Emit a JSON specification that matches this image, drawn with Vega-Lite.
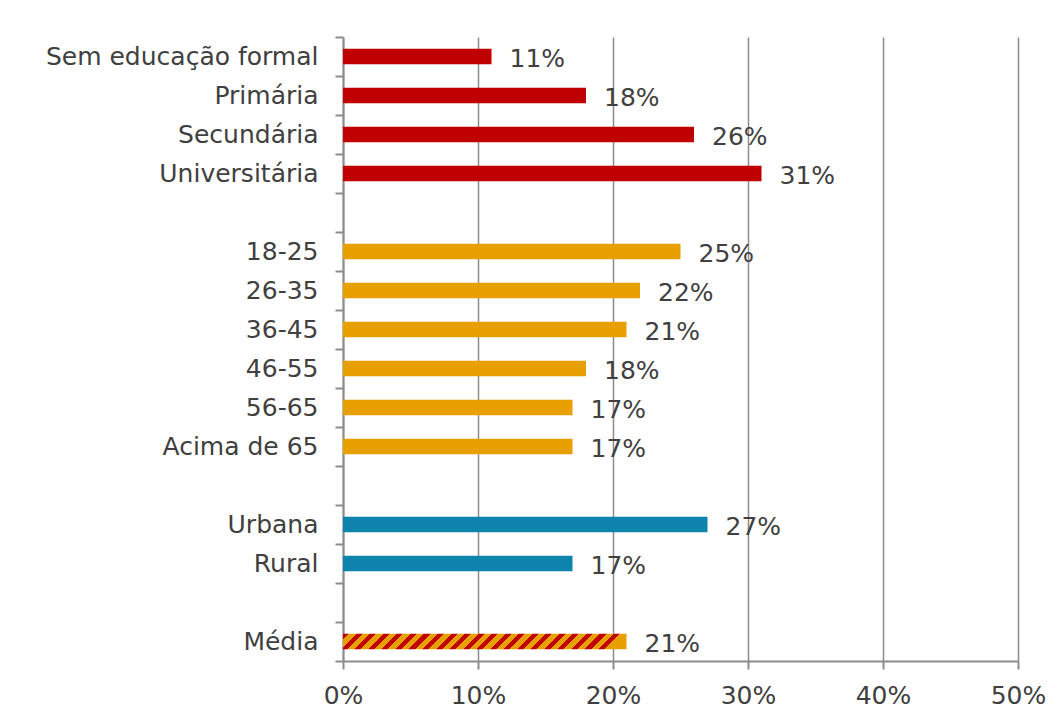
{
  "$schema": "https://vega.github.io/schema/vega-lite/v6.json",
  "width": 675,
  "height": 624,
  "autosize": "none",
  "padding": {"left": 343, "top": 37, "right": 43, "bottom": 61},
  "background": "white",
  "config": {
    "view": {"stroke": null},
    "font": "DejaVu Sans",
    "axis": {"labelFont": "DejaVu Sans", "labelColor": "#404040", "labelFontSize": 25, "labelLimit": 500}
  },
  "data": {
    "values": [
      {"cat": "Sem educação formal", "value": 0.11, "group": "edu"},
      {"cat": "Primária", "value": 0.18, "group": "edu"},
      {"cat": "Secundária", "value": 0.26, "group": "edu"},
      {"cat": "Universitária", "value": 0.31, "group": "edu"},
      {"cat": "18-25", "value": 0.25, "group": "age"},
      {"cat": "26-35", "value": 0.22, "group": "age"},
      {"cat": "36-45", "value": 0.21, "group": "age"},
      {"cat": "46-55", "value": 0.18, "group": "age"},
      {"cat": "56-65", "value": 0.17, "group": "age"},
      {"cat": "Acima de 65", "value": 0.17, "group": "age"},
      {"cat": "Urbana", "value": 0.27, "group": "loc"},
      {"cat": "Rural", "value": 0.17, "group": "loc"},
      {"cat": "Média", "value": 0.21, "group": "avg"}
    ]
  },
  "encoding": {
    "y": {
      "field": "cat",
      "type": "nominal",
      "sort": null,
      "scale": {
        "domain": ["Sem educação formal", "Primária", "Secundária", "Universitária", " ", "18-25", "26-35", "36-45", "46-55", "56-65", "Acima de 65", "  ", "Urbana", "Rural", "   ", "Média"],
        "paddingInner": 0,
        "paddingOuter": 0
      },
      "axis": {
        "title": null,
        "tickBand": "extent",
        "tickSize": 8,
        "tickWidth": 2,
        "tickColor": "#8c8c8c",
        "domainColor": "#8c8c8c",
        "domainWidth": 2,
        "labelPadding": 17,
        "grid": false
      }
    },
    "x": {
      "field": "value",
      "type": "quantitative",
      "scale": {"domain": [0, 0.5], "nice": false},
      "axis": {
        "title": null,
        "values": [0, 0.1, 0.2, 0.3, 0.4, 0.5],
        "format": ".0%",
        "labelFlush": false,
        "labelOverlap": false,
        "tickSize": 8,
        "tickWidth": 2,
        "tickColor": "#8c8c8c",
        "domainColor": "#8c8c8c",
        "domainWidth": 2,
        "grid": true,
        "gridColor": "#8c8c8c",
        "gridWidth": 1.5,
        "labelPadding": 14
      }
    }
  },
  "layer": [
    {
      "transform": [{"filter": "datum.group !== 'avg'"}],
      "mark": {"type": "bar", "height": {"band": 0.4}},
      "encoding": {
        "color": {
          "field": "group",
          "type": "nominal",
          "scale": {"domain": ["edu", "age", "loc"], "range": ["#C00000", "#E8A000", "#0E84AC"]},
          "legend": null
        }
      }
    },
    {
      "transform": [{"filter": "datum.group === 'avg'"}],
      "mark": {
        "type": "bar",
        "height": {"band": 0.4},
        "fill": {
          "gradient": "linear",
          "x1": 0, "y1": 0, "x2": 1, "y2": 0.055,
          "stops": [
            {"offset": 0, "color": "#C00000"}, {"offset": 0.0214, "color": "#C00000"}, {"offset": 0.0214, "color": "#E8A000"}, {"offset": 0.0476, "color": "#E8A000"},
            {"offset": 0.0476, "color": "#C00000"}, {"offset": 0.0690, "color": "#C00000"}, {"offset": 0.0690, "color": "#E8A000"}, {"offset": 0.0952, "color": "#E8A000"},
            {"offset": 0.0952, "color": "#C00000"}, {"offset": 0.1166, "color": "#C00000"}, {"offset": 0.1166, "color": "#E8A000"}, {"offset": 0.1429, "color": "#E8A000"},
            {"offset": 0.1429, "color": "#C00000"}, {"offset": 0.1643, "color": "#C00000"}, {"offset": 0.1643, "color": "#E8A000"}, {"offset": 0.1905, "color": "#E8A000"},
            {"offset": 0.1905, "color": "#C00000"}, {"offset": 0.2119, "color": "#C00000"}, {"offset": 0.2119, "color": "#E8A000"}, {"offset": 0.2381, "color": "#E8A000"},
            {"offset": 0.2381, "color": "#C00000"}, {"offset": 0.2595, "color": "#C00000"}, {"offset": 0.2595, "color": "#E8A000"}, {"offset": 0.2857, "color": "#E8A000"},
            {"offset": 0.2857, "color": "#C00000"}, {"offset": 0.3071, "color": "#C00000"}, {"offset": 0.3071, "color": "#E8A000"}, {"offset": 0.3333, "color": "#E8A000"},
            {"offset": 0.3333, "color": "#C00000"}, {"offset": 0.3547, "color": "#C00000"}, {"offset": 0.3547, "color": "#E8A000"}, {"offset": 0.3810, "color": "#E8A000"},
            {"offset": 0.3810, "color": "#C00000"}, {"offset": 0.4024, "color": "#C00000"}, {"offset": 0.4024, "color": "#E8A000"}, {"offset": 0.4286, "color": "#E8A000"},
            {"offset": 0.4286, "color": "#C00000"}, {"offset": 0.4500, "color": "#C00000"}, {"offset": 0.4500, "color": "#E8A000"}, {"offset": 0.4762, "color": "#E8A000"},
            {"offset": 0.4762, "color": "#C00000"}, {"offset": 0.4976, "color": "#C00000"}, {"offset": 0.4976, "color": "#E8A000"}, {"offset": 0.5238, "color": "#E8A000"},
            {"offset": 0.5238, "color": "#C00000"}, {"offset": 0.5452, "color": "#C00000"}, {"offset": 0.5452, "color": "#E8A000"}, {"offset": 0.5714, "color": "#E8A000"},
            {"offset": 0.5714, "color": "#C00000"}, {"offset": 0.5928, "color": "#C00000"}, {"offset": 0.5928, "color": "#E8A000"}, {"offset": 0.6190, "color": "#E8A000"},
            {"offset": 0.6190, "color": "#C00000"}, {"offset": 0.6404, "color": "#C00000"}, {"offset": 0.6404, "color": "#E8A000"}, {"offset": 0.6667, "color": "#E8A000"},
            {"offset": 0.6667, "color": "#C00000"}, {"offset": 0.6881, "color": "#C00000"}, {"offset": 0.6881, "color": "#E8A000"}, {"offset": 0.7143, "color": "#E8A000"},
            {"offset": 0.7143, "color": "#C00000"}, {"offset": 0.7357, "color": "#C00000"}, {"offset": 0.7357, "color": "#E8A000"}, {"offset": 0.7619, "color": "#E8A000"},
            {"offset": 0.7619, "color": "#C00000"}, {"offset": 0.7833, "color": "#C00000"}, {"offset": 0.7833, "color": "#E8A000"}, {"offset": 0.8095, "color": "#E8A000"},
            {"offset": 0.8095, "color": "#C00000"}, {"offset": 0.8309, "color": "#C00000"}, {"offset": 0.8309, "color": "#E8A000"}, {"offset": 0.8571, "color": "#E8A000"},
            {"offset": 0.8571, "color": "#C00000"}, {"offset": 0.8785, "color": "#C00000"}, {"offset": 0.8785, "color": "#E8A000"}, {"offset": 0.9048, "color": "#E8A000"},
            {"offset": 0.9048, "color": "#C00000"}, {"offset": 0.9262, "color": "#C00000"}, {"offset": 0.9262, "color": "#E8A000"}, {"offset": 0.9524, "color": "#E8A000"},
            {"offset": 0.9524, "color": "#C00000"}, {"offset": 0.9738, "color": "#C00000"}, {"offset": 0.9738, "color": "#E8A000"}, {"offset": 1, "color": "#E8A000"}
          ]
        }
      }
    },
    {
      "mark": {"type": "text", "align": "left", "baseline": "middle", "dx": 18, "dy": 2, "fontSize": 25, "color": "#404040", "font": "DejaVu Sans"},
      "encoding": {
        "text": {"field": "value", "type": "quantitative", "format": ".0%"}
      }
    }
  ]
}
